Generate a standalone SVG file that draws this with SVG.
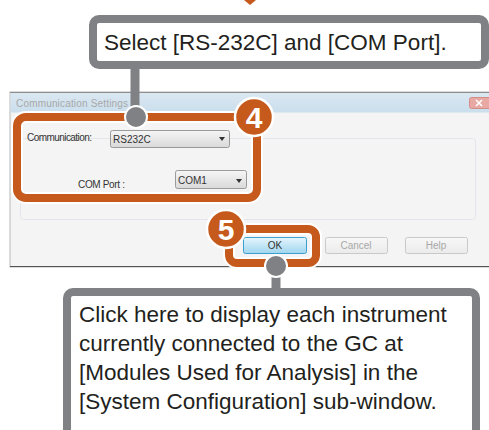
<svg xmlns="http://www.w3.org/2000/svg" width="489" height="430" viewBox="0 0 489 430">
  <defs>
    <linearGradient id="titleBar" x1="0" y1="0" x2="0" y2="1">
      <stop offset="0" stop-color="#dbe8f2"/>
      <stop offset="1" stop-color="#cadeec"/>
    </linearGradient>
    <linearGradient id="combo" x1="0" y1="0" x2="0" y2="1">
      <stop offset="0" stop-color="#f6f6f6"/>
      <stop offset="1" stop-color="#d9d9d9"/>
    </linearGradient>
    <linearGradient id="okBtn" x1="0" y1="0" x2="0" y2="1">
      <stop offset="0" stop-color="#e6f5fc"/>
      <stop offset="1" stop-color="#9fd6ee"/>
    </linearGradient>
    <linearGradient id="btn" x1="0" y1="0" x2="0" y2="1">
      <stop offset="0" stop-color="#f7f7f7"/>
      <stop offset="1" stop-color="#ebebeb"/>
    </linearGradient>
  </defs>
  <style>
    .ui { font-family: "Liberation Sans", "DejaVu Sans", sans-serif; font-size: 10px; fill: #333; }
    .dim { fill: #a8a8a8; }
    .note { font-family: "Liberation Sans", Arial, sans-serif; font-size: 22.5px; fill: #231f20; }
    .callout { fill: #ffffff; stroke: #808184; stroke-width: 8; }
    .stem { stroke: #808184; stroke-width: 9; fill: none; }
    .dot { fill: #808184; stroke: #ffffff; stroke-width: 2; }
    .hl { fill: none; stroke: #ffffff; stroke-width: 12; }
    .hl2 { fill: none; stroke: #c55a1c; stroke-width: 8; }
    .badge { fill: #c55a1c; stroke: #ffffff; stroke-width: 2.5; }
    .num { font-family: "Liberation Sans", Arial, sans-serif; font-size: 30px; font-weight: bold; fill: #ffffff; text-anchor: middle; }
    .arrow { fill: #333; }
  </style>

  <rect width="489" height="430" fill="#ffffff"/>

  <!-- incoming flow arrow tip -->
  <path d="M244,0 L256,0 L250,5 Z" fill="#c55a1c"/>

  <!-- dialog window -->
  <g id="dialog">
    <rect x="10" y="92" width="485" height="175" fill="#f4f4f4" stroke="#b8b8b8" stroke-width="1"/>
    <rect x="10.5" y="92.5" width="485" height="20" fill="url(#titleBar)"/>
    <line x1="10" y1="92.5" x2="489" y2="92.5" stroke="#8e8e8e" stroke-width="1"/>
    <line x1="10" y1="266.5" x2="489" y2="266.5" stroke="#555" stroke-width="1.2"/>
    <text x="16" y="107" class="ui dim" font-size="10.5" textLength="112">Communication Settings</text>
    <rect x="469.5" y="97.5" width="22" height="11" rx="2" fill="#e8a9a4" stroke="#d38c86"/>
    <path d="M476,100 L482,106 M482,100 L476,106" stroke="#ffffff" stroke-width="1.6"/>
    <!-- group box -->
    <rect x="20.5" y="138.5" width="455" height="81" rx="3" fill="none" stroke="#e2e6ea"/>
    <!-- communication combo -->
    <text x="27" y="141" class="ui" textLength="65">Communication:</text>
    <rect x="110.5" y="130.5" width="119" height="17" rx="2" fill="url(#combo)" stroke="#9a9a9a"/>
    <text x="113" y="143" class="ui" font-size="9.5">RS232C</text>
    <path d="M219,137 L225,137 L222,141 Z" class="arrow"/>
    <!-- COM port combo -->
    <text x="78" y="188" class="ui" textLength="47">COM Port :</text>
    <rect x="175.5" y="170.5" width="71" height="18" rx="2" fill="url(#combo)" stroke="#9a9a9a"/>
    <text x="178" y="184" class="ui" font-size="9.5">COM1</text>
    <path d="M236,179 L242,179 L239,183 Z" class="arrow"/>
    <!-- buttons -->
    <rect x="243.5" y="237.5" width="63" height="16" rx="2" fill="url(#okBtn)" stroke="#3c9fd0"/>
    <text x="275" y="249" class="ui" text-anchor="middle" font-size="9.5">OK</text>
    <rect x="325.5" y="237.5" width="62" height="16" rx="2" fill="url(#btn)" stroke="#c9c9c9"/>
    <text x="356" y="249" class="ui dim" text-anchor="middle" font-size="9.5">Cancel</text>
    <rect x="405.5" y="237.5" width="62" height="16" rx="2" fill="url(#btn)" stroke="#c9c9c9"/>
    <text x="436" y="249" class="ui dim" text-anchor="middle" font-size="9.5">Help</text>
  </g>

  <!-- step 4 highlight -->
  <g id="step4">
    <rect x="17" y="117" width="240" height="81" rx="9" class="hl"/>
    <rect x="17" y="117" width="240" height="81" rx="9" class="hl2"/>
    <circle cx="254" cy="117" r="19" class="badge"/>
    <text x="254" y="128" class="num">4</text>
  </g>

  <!-- step 5 highlight -->
  <g id="step5">
    <rect x="229" y="229" width="87" height="34" rx="8" class="hl"/>
    <rect x="229" y="229" width="87" height="34" rx="8" class="hl2"/>
    <circle cx="226" cy="229" r="19" class="badge"/>
    <text x="226" y="240" class="num">5</text>
  </g>

  <!-- callout connectors -->
  <g id="connectors">
    <line x1="135" y1="66" x2="135" y2="115" class="stem"/>
    <circle cx="136" cy="117" r="11" class="dot"/>
    <line x1="276" y1="268" x2="276" y2="292" class="stem"/>
    <circle cx="276" cy="266" r="11" class="dot"/>
  </g>

  <!-- callout: selection -->
  <g id="note-select">
    <rect x="93" y="19" width="392" height="46" rx="6" class="callout"/>
    <text x="104" y="50" class="note">Select [RS-232C] and [COM Port].</text>
  </g>

  <!-- callout: OK button -->
  <g id="note-ok">
    <rect x="67" y="292" width="409" height="160" rx="6" class="callout"/>
    <text x="79" y="322" class="note">Click here to display each instrument</text>
    <text x="79" y="351" class="note">currently connected to the GC at</text>
    <text x="79" y="380" class="note">[Modules Used for Analysis] in the</text>
    <text x="79" y="409" class="note">[System Configuration] sub-window.</text>
  </g>
</svg>
